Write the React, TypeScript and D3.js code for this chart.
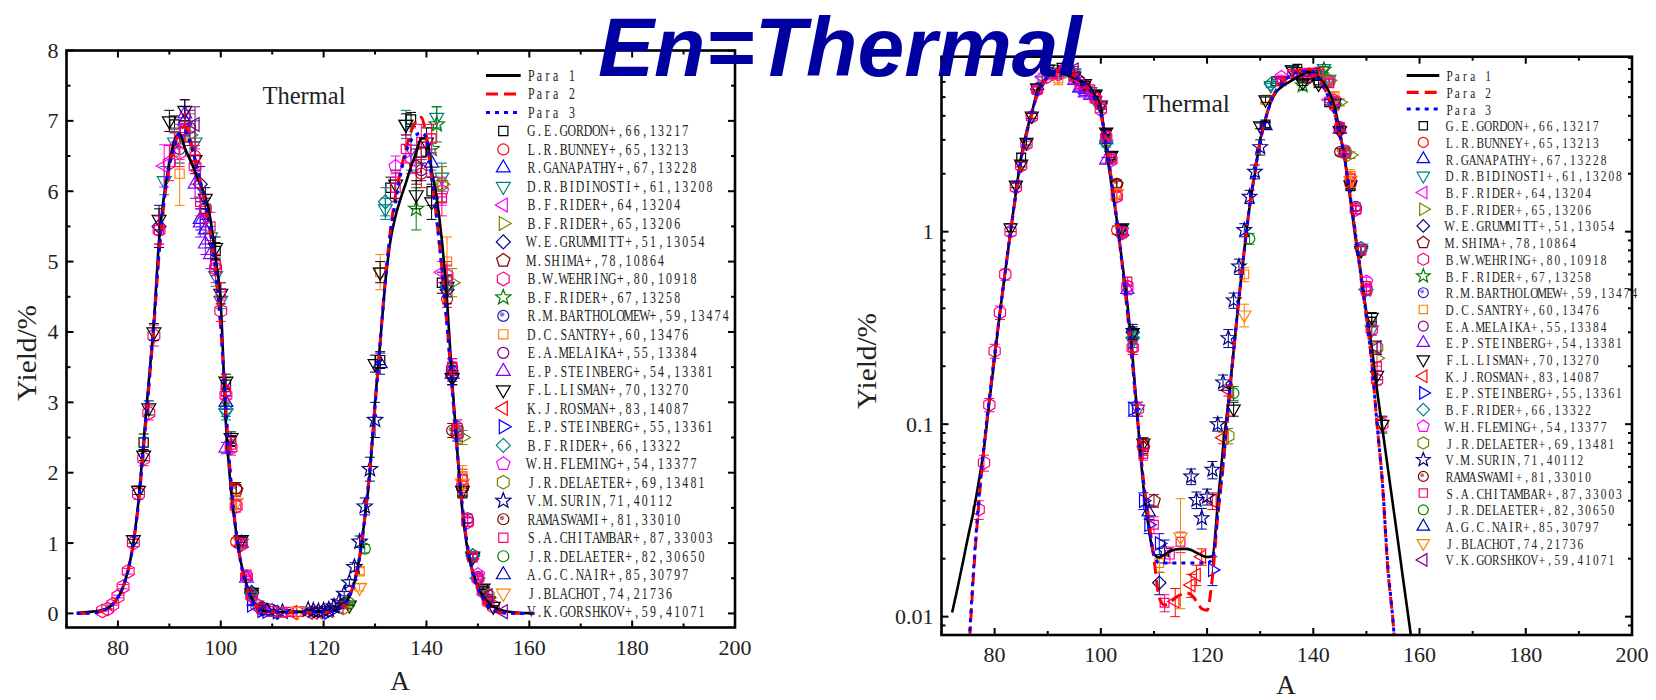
import React from 'react';
import * as d3 from 'd3';

type P = [number, number];
type E = [number, number, number];

// ---------- model curves (A, yield %) ----------
const PARA1: P[] = [[72,0.0105],[73,0.014],[74,0.019],[75,0.026],[76,0.035],[77,0.05],[78,0.075],[79,0.13],[80,0.22],[81,0.38],[82,0.62],[83,1.0],[84,1.6],[85,2.45],[86,3.3],[87,4.15],[88,5.3],[89,5.95],[90,6.4],[91,6.72],[92,6.82],[93,6.62],[94,6.45],[95,6.28],[96,6.1],[97,5.92],[98,5.6],[99,5.05],[100,4.4],[101,2.7],[102,1.75],[103,1.15],[104,0.7],[105,0.42],[106,0.22],[107,0.1],[108,0.048],[109,0.029],[110,0.021],[111,0.0203],[112,0.021],[113,0.0218],[114,0.0223],[115,0.0225],[116,0.0225],[117,0.0222],[118,0.0215],[119,0.0208],[120,0.0204],[121,0.0206],[122,0.038],[123,0.075],[124,0.13],[125,0.24],[126,0.45],[127,0.8],[128,1.35],[129,2.0],[130,3.0],[131,3.85],[132,4.7],[133,5.3],[134,5.65],[135,5.9],[136,6.12],[137,6.35],[138,6.55],[139,6.75],[140,6.75],[141,6.3],[142,5.9],[143,5.3],[144,4.45],[145,3.3],[146,2.3],[147,1.45],[148,0.9],[149,0.6],[150,0.38],[151,0.25],[152,0.15],[153,0.095],[154,0.06],[155,0.038],[156,0.024],[157,0.015],[158,0.0095],[159,0.006],[160,0.004],[161,0.0025]];
const PARA2: P[] = [[72,0.0002],[73,0.0006],[74,0.002],[75,0.0055],[76,0.016],[77,0.038],[78,0.075],[79,0.135],[80,0.23],[81,0.38],[82,0.62],[83,1.0],[84,1.55],[85,2.35],[86,3.2],[87,4.1],[88,5.1],[89,5.85],[90,6.35],[91,6.65],[92,6.85],[93,6.92],[94,6.75],[95,6.45],[96,6.15],[97,5.8],[98,5.4],[99,4.85],[100,4.05],[101,2.9],[102,1.85],[103,1.15],[104,0.68],[105,0.38],[106,0.2],[107,0.1],[108,0.052],[109,0.032],[110,0.02],[111,0.0125],[112,0.0115],[113,0.0118],[114,0.0125],[115,0.013],[116,0.0133],[117,0.013],[118,0.012],[119,0.011],[120,0.0108],[121,0.016],[122,0.033],[123,0.06],[124,0.12],[125,0.24],[126,0.45],[127,0.8],[128,1.35],[129,2.05],[130,2.95],[131,3.85],[132,4.75],[133,5.45],[134,5.95],[135,6.3],[136,6.6],[137,6.85],[138,7.0],[139,7.05],[140,6.75],[141,6.2],[142,5.6],[143,4.9],[144,4.1],[145,3.2],[146,2.3],[147,1.5],[148,0.95],[149,0.58],[150,0.36],[151,0.21],[152,0.1],[153,0.05],[154,0.018],[155,0.0095],[156,0.004],[158,0.001],[161,0.0001]];
const PARA3: P[] = [[72,0.0003],[73,0.0008],[74,0.0025],[75,0.006],[76,0.017],[77,0.04],[78,0.078],[79,0.135],[80,0.23],[81,0.38],[82,0.62],[83,1.0],[84,1.58],[85,2.4],[86,3.25],[87,4.15],[88,5.15],[89,5.9],[90,6.35],[91,6.65],[92,6.82],[93,6.85],[94,6.7],[95,6.45],[96,6.15],[97,5.82],[98,5.42],[99,4.88],[100,4.1],[101,2.9],[102,1.85],[103,1.15],[104,0.68],[105,0.39],[106,0.2],[107,0.1],[108,0.05],[109,0.03],[110,0.021],[111,0.019],[112,0.019],[113,0.019],[114,0.019],[115,0.019],[116,0.019],[117,0.019],[118,0.019],[119,0.019],[120,0.019],[121,0.02],[122,0.034],[123,0.062],[124,0.125],[125,0.24],[126,0.45],[127,0.8],[128,1.35],[129,2.05],[130,2.95],[131,3.85],[132,4.7],[133,5.4],[134,5.85],[135,6.25],[136,6.55],[137,6.72],[138,6.8],[139,6.83],[140,6.75],[141,6.2],[142,5.6],[143,4.9],[144,4.1],[145,3.2],[146,2.3],[147,1.5],[148,0.95],[149,0.58],[150,0.36],[151,0.21],[152,0.1],[153,0.05],[154,0.019],[155,0.0095],[156,0.004],[158,0.001],[161,0.0001]];

// ---------- measurements (A, yield %, error) ----------
const GORDON: E[] = [[85,2.43,0.12],[91,6.95,0.12],[93,6.85,0.15],[97,5.75,0.15],[99,5.15,0.12],[101,3.25,0.1],[102,2.45,0.08],[104,1.02,0.05],[106,0.29,0.02],[131,3.6,0.12],[133,6.05,0.15],[137,7.02,0.1],[139,6.55,0.15],[141,6.0,0.2],[143,4.7,0.15],[145,3.45,0.1],[147,1.72,0.08],[149,0.8,0.04],[151,0.34,0.02]];
const BUNNEY: E[] = [[95,6.5,0.2],[99,4.95,0.15],[103,1.02,0.05],[139,6.25,0.2],[144,4.47,0.12],[145,3.45,0.12],[147,1.9,0.15],[149,0.8,0.04],[150,0.52,0.03]];
const GANAPATHY: E[] = [[93,7.0,0.2],[96,5.6,0.15],[97,5.45,0.2],[101,3.0,0.1],[104,1.0,0.05],[141,6.4,0.2],[145,3.4,0.1]];
const BIDINOSTI: E[] = [[89,6.15,0.2],[91,6.7,0.2],[95,6.7,0.3],[98,5.35,0.15],[99,4.8,0.15],[100,4.45,0.12],[101,2.85,0.1],[104,1.0,0.04],[106,0.27,0.02],[107,0.12,0.01],[132,5.75,0.15],[136,6.95,0.2],[137,6.6,0.3],[142,7.05,0.15],[143,6.2,0.2],[145,3.35,0.1],[149,0.82,0.03],[151,0.31,0.02]];
const RIDER64: E[] = [[89,6.36,0.3],[92,6.7,0.25],[137,6.45,0.2],[143,4.85,0.15],[150,0.5,0.03]];
const RIDER65: E[] = [[94,6.8,0.3],[143,6.1,0.25],[145,4.7,0.2],[147,2.5,0.1],[152,0.22,0.02]];
const GRUMMITT: E[] = [[88,5.5,0.3],[96,6.1,0.25],[106,0.3,0.03],[111,0.015,0.002],[144,4.6,0.2]];
const SHIMA: E[] = [[103,1.75,0.08],[108,0.075,0.006],[110,0.04,0.003],[138,6.35,0.25]];
const WEHRING: E[] = [[77,0.036,0.004],[78,0.063,0.006],[79,0.126,0.01],[80,0.24,0.02],[81,0.38,0.03],[82,0.6,0.04],[83,1.0,0.05],[84,1.7,0.08],[85,2.2,0.1],[86,2.85,0.1],[87,3.95,0.15],[88,5.45,0.2],[90,6.4,0.25],[92,6.55,0.2],[95,6.35,0.25],[97,5.75,0.2],[99,4.9,0.2],[100,4.3,0.15],[101,3.1,0.12],[102,2.35,0.1],[103,1.52,0.08],[104,0.98,0.05],[105,0.52,0.03],[106,0.25,0.02],[107,0.12,0.01],[108,0.078,0.006],[144,4.8,0.2],[145,3.4,0.15],[146,2.55,0.1],[147,1.8,0.08],[148,1.3,0.06],[149,0.82,0.04],[150,0.5,0.03],[151,0.31,0.02],[152,0.17,0.01],[153,0.1,0.008]];
const RIDER67: E[] = [[138,5.75,0.3],[141,6.6,0.3],[142,6.95,0.25]];
const BARTHOLOMEW: E[] = [[92,6.6,0.2],[145,3.45,0.12]];
const SANTRY: E[] = [[92,6.25,0.45],[111,0.019,0.002],[127,0.6,0.05],[131,4.85,0.25],[141,6.75,0.2],[144,5.0,0.35],[147,1.95,0.15]];
const MELAIKA: E[] = [[94,6.9,0.25],[139,6.3,0.15],[145,3.5,0.12],[146,2.65,0.1],[148,1.35,0.06]];
const STEINBERG54: E[] = [[93,7.1,0.2],[95,6.1,0.2],[96,5.55,0.2],[97,5.25,0.15],[98,5.1,0.2],[101,2.35,0.08],[105,0.5,0.03]];
const LISMAN: E[] = [[83,1.05,0.05],[84,1.75,0.06],[85,2.25,0.08],[86,2.92,0.1],[87,4.0,0.12],[88,5.6,0.15],[90,7.0,0.15],[93,7.15,0.15],[95,6.45,0.2],[97,5.9,0.15],[99,5.2,0.15],[100,4.55,0.15],[101,3.3,0.1],[102,2.5,0.08],[104,1.05,0.04],[106,0.3,0.02],[108,0.08,0.005],[125,0.12,0.01],[130,3.55,0.12],[131,4.85,0.15],[134,6.1,0.2],[136,6.95,0.15],[138,5.95,0.2],[140,6.7,0.2],[141,5.85,0.25],[144,4.65,0.15],[145,3.35,0.1],[147,1.75,0.08],[149,0.8,0.04],[151,0.36,0.02],[152,0.18,0.01],[153,0.1,0.01]];
const ROSMAN: E[] = [[114,0.012,0.002],[117,0.0146,0.002],[118,0.0165,0.002],[119,0.0205,0.002],[121,0.04,0.004],[123,0.085,0.006],[124,0.15,0.01]];
const STEINBERG55: E[] = [[106,0.12,0.01],[108,0.04,0.004],[109,0.03,0.003],[111,0.024,0.003],[121,0.0175,0.003]];
const RIDER66: E[] = [[101,2.9,0.1],[106,0.28,0.02],[132,5.85,0.2],[144,4.65,0.15],[146,2.55,0.1],[149,0.82,0.04],[150,0.5,0.03]];
const FLEMING: E[] = [[134,6.35,0.15],[143,6.0,0.2],[150,0.55,0.03]];
const DELAETER69: E[] = [[124,0.087,0.008],[143,6.1,0.25],[146,2.6,0.1],[152,0.25,0.02]];
const SURIN: E[] = [[112,0.022,0.003],[117,0.0535,0.005],[118,0.0404,0.004],[119,0.0325,0.004],[120,0.042,0.004],[121,0.058,0.006],[122,0.1,0.008],[123,0.165,0.015],[124,0.28,0.03],[125,0.44,0.04],[126,0.66,0.06],[127,1.02,0.08],[128,1.52,0.12],[129,2.05,0.17],[130,2.75,0.25]];
const RAMASWAMI: E[] = [[103,1.78,0.08],[108,0.078,0.006],[145,2.6,0.1]];
const CHITAMBAR: E[] = [[88,5.45,0.2],[91,6.6,0.25],[93,6.9,0.2],[95,6.45,0.2],[96,5.85,0.2],[98,5.5,0.2],[99,4.95,0.15],[100,4.55,0.15],[101,3.15,0.1],[102,2.4,0.1],[103,1.55,0.06],[104,1.0,0.05],[105,0.55,0.03],[106,0.25,0.02],[108,0.07,0.005],[110,0.03,0.003],[112,0.0118,0.0012],[113,0.021,0.002],[115,0.0245,0.003],[134,6.05,0.2],[136,6.6,0.2],[139,6.7,0.25],[141,6.75,0.2],[143,5.9,0.25],[144,4.75,0.2],[145,3.5,0.12],[146,2.6,0.1],[147,1.9,0.08],[148,1.3,0.06],[149,0.8,0.04],[150,0.5,0.03],[152,0.2,0.01]];
const DELAETER82: E[] = [[125,0.145,0.012],[128,0.92,0.06]];
const NAIR: E[] = [[109,0.035,0.003],[131,3.55,0.15]];
const BLACHOT: E[] = [[103,1.58,0.1],[115,0.026,0.015],[127,0.37,0.05],[147,1.85,0.15]];
const GORSHKOV: E[] = [[95,6.95,0.25],[152,0.25,0.02]];

const SERIES_LABELS = ['G.E.GORDON+,66,13217','L.R.BUNNEY+,65,13213','R.GANAPATHY+,67,13228','D.R.BIDINOSTI+,61,13208','B.F.RIDER+,64,13204','B.F.RIDER+,65,13206','W.E.GRUMMITT+,51,13054','M.SHIMA+,78,10864','B.W.WEHRING+,80,10918','B.F.RIDER+,67,13258','R.M.BARTHOLOMEW+,59,13474','D.C.SANTRY+,60,13476','E.A.MELAIKA+,55,13384','E.P.STEINBERG+,54,13381','F.L.LISMAN+,70,13270','K.J.ROSMAN+,83,14087','E.P.STEINBERG+,55,13361','B.F.RIDER+,66,13322','W.H.FLEMING+,54,13377','J.R.DELAETER+,69,13481','V.M.SURIN,71,40112','RAMASWAMI+,81,33010','S.A.CHITAMBAR+,87,33003','J.R.DELAETER+,82,30650','A.G.C.NAIR+,85,30797','J.BLACHOT,74,21736','V.K.GORSHKOV+,59,41071'];
const SERIES_COLORS = ['#000000','#FF0000','#0000FF','#008080','#FF00FF','#808000','#000080','#800000','#FF0080','#008000','#2020B0','#FF8000','#800080','#8000FF','#000000','#FF0000','#0000FF','#008080','#FF00FF','#808000','#000080','#800000','#FF0080','#008000','#0000A0','#FF8000','#800080'];
const SERIES_SHAPES = ['square','circle','up','down','left','right','diamond','pentagon','hexagon','star','sphere','square','circle','up','down','left','right','diamond','pentagon','hexagon','star','sphere','square','circle','up','down','left'];
const SERIES_DATA = [GORDON,BUNNEY,GANAPATHY,BIDINOSTI,RIDER64,RIDER65,GRUMMITT,SHIMA,WEHRING,RIDER67,BARTHOLOMEW,SANTRY,MELAIKA,STEINBERG54,LISMAN,ROSMAN,STEINBERG55,RIDER66,FLEMING,DELAETER69,SURIN,RAMASWAMI,CHITAMBAR,DELAETER82,NAIR,BLACHOT,GORSHKOV];

const PARA_LABELS = ['Para 1', 'Para 2', 'Para 3'];
const LIN_TICKS = [0, 1, 2, 3, 4, 5, 6, 7, 8];
const LOG_TICKS = [0.01, 0.1, 1];
const LOG_TICK_LABELS = ['0.01', '0.1', '1'];
const X_TICKS = [80, 100, 120, 140, 160, 180, 200];

// ---------- helpers ----------
function polygon(n: number, r: number, rot: number) {
  let d = '';
  for (let i = 0; i < n; i++) {
    const a = ((rot + (i * 360) / n) * Math.PI) / 180;
    d += (i ? 'L' : 'M') + (r * Math.cos(a)).toFixed(2) + ',' + (r * Math.sin(a)).toFixed(2);
  }
  return d + 'Z';
}
function starPath(r: number) {
  let d = '';
  for (let i = 0; i < 10; i++) {
    const rr = i % 2 === 0 ? r : r * 0.42;
    const a = ((-90 + i * 36) * Math.PI) / 180;
    d += (i ? 'L' : 'M') + (rr * Math.cos(a)).toFixed(2) + ',' + (rr * Math.sin(a)).toFixed(2);
  }
  return d + 'Z';
}

function Marker({ shape, color, x, y, s }: { shape: string; color: string; x: number; y: number; s: number }) {
  const sw = 1.2;
  const t = `translate(${x},${y})`;
  if (shape === 'circle') return <circle cx={x} cy={y} r={5.5 * s} fill="none" stroke={color} strokeWidth={sw} />;
  if (shape === 'sphere')
    return (
      <g transform={t}>
        <circle r={5.5 * s} fill="none" stroke={color} strokeWidth={sw} />
        <circle cx={-1.3 * s} cy={-1.3 * s} r={2.2 * s} fill={color} opacity={0.55} />
      </g>
    );
  let d = '';
  if (shape === 'square') d = polygon(4, 6.5 * s, 45);
  else if (shape === 'up') d = polygon(3, 8 * s, -90);
  else if (shape === 'down') d = polygon(3, 8 * s, 90);
  else if (shape === 'left') d = polygon(3, 8 * s, 180);
  else if (shape === 'right') d = polygon(3, 8 * s, 0);
  else if (shape === 'diamond') d = polygon(4, 7 * s, -90);
  else if (shape === 'pentagon') d = polygon(5, 7 * s, -90);
  else if (shape === 'hexagon') d = polygon(6, 6.8 * s, -90);
  else if (shape === 'star') d = starPath(8 * s);
  return <path transform={t} d={d} fill="none" stroke={color} strokeWidth={sw} />;
}

// SimSun-like half-width text: every char sits centred in a cell of `cell` px
function Mono({ x, y, text, cell, size, sx = 0.74, fill = '#222' }: any) {
  return (
    <text
      transform={`translate(${x},${y}) scale(${sx},1)`}
      fontFamily="Liberation Serif"
      fontSize={size}
      textAnchor="middle"
      fill={fill}
      style={{ whiteSpace: 'pre' }}
    >
      {text.split('').map((c: string, i: number) => (
        <tspan key={i} x={((i + 0.5) * cell) / sx}>
          {c}
        </tspan>
      ))}
    </text>
  );
}

// stretched serif text of a fixed total width
function Fit({ x, y, text, width, size, rotate = 0 }: any) {
  return (
    <text
      transform={`translate(${x},${y}) rotate(${rotate})`}
      fontFamily="Liberation Serif"
      fontSize={size}
      fill="#222"
      textAnchor={rotate ? 'middle' : 'start'}
      textLength={width}
      lengthAdjust="spacingAndGlyphs"
    >
      {text}
    </text>
  );
}

type PanelCfg = {
  id: string;
  log: boolean;
  x0: number; x1: number; top: number; bottom: number;
  leg: { l0: number; l1: number; mx: number; tx: number; r0: number; dy: number; cell: number; size: number; ms: number };
  thermal: [number, number, number, number];
  ytitle: [number, number];
  xtitle: [number, number];
  ms: number;
};

function Panel({ cfg }: { cfg: PanelCfg }) {
  const x = d3.scaleLinear().domain([70, 200]).range([cfg.x0, cfg.x1]);
  const y: any = cfg.log
    ? d3.scaleLog().domain([0.00803, 8.11]).range([cfg.bottom, cfg.top])
    : d3.scaleLinear().domain([-0.2, 8]).range([cfg.bottom, cfg.top]);
  const ymin = cfg.log ? 0.00803 : -0.2;
  const line = d3
    .line<P>()
    .defined((p) => !cfg.log || p[1] > 0)
    .x((p) => x(p[0]))
    .y((p) => y(p[1]))
    .curve(d3.curveMonotoneX);
  const clipId = 'clip-' + cfg.id;
  const black = '#000';

  const xMinor = d3.range(70, 201, 10).filter((v) => v % 20 !== 0);
  let yMajor: number[] = [];
  let yMinor: number[] = [];
  if (cfg.log) {
    yMajor = LOG_TICKS;
    for (const dec of [0.001, 0.01, 0.1, 1]) for (let k = 2; k <= 9; k++) {
      const v = dec * k;
      if (v >= 0.00803 && v <= 8.11) yMinor.push(v);
    }
  } else {
    yMajor = LIN_TICKS;
    yMinor = d3.range(0.5, 8, 1);
  }
  const ML = 7, mL = 4;

  const pts: any[] = [];
  SERIES_DATA.forEach((ser, si) => {
    ser.forEach((p, pi) => {
      const [a, v, e] = p;
      if (cfg.log && v < 0.00803) return;
      const cx = x(a), cy = y(v);
      const lo = Math.max(v - e, ymin * 1.0001);
      const y1 = y(lo), y2 = y(v + e);
      const c = SERIES_COLORS[si];
      pts.push(
        <g key={`${si}-${pi}`}>
          <line x1={cx} x2={cx} y1={y1} y2={y2} stroke={c} strokeWidth={1} />
          <line x1={cx - 5} x2={cx + 5} y1={y1} y2={y1} stroke={c} strokeWidth={1} />
          <line x1={cx - 5} x2={cx + 5} y1={y2} y2={y2} stroke={c} strokeWidth={1} />
          <Marker shape={SERIES_SHAPES[si]} color={c} x={cx} y={cy} s={cfg.ms} />
        </g>
      );
    });
  });

  const L = cfg.leg;
  return (
    <g>
      <defs>
        <clipPath id={clipId}>
          <rect x={cfg.x0} y={cfg.top} width={cfg.x1 - cfg.x0} height={cfg.bottom - cfg.top} />
        </clipPath>
      </defs>
      <g clipPath={`url(#${clipId})`}>
        {pts}
        <path d={line(PARA1) || ''} fill="none" stroke="#000" strokeWidth={2.6} />
        <path d={line(PARA2) || ''} fill="none" stroke="#FF0000" strokeWidth={3} strokeDasharray="12,6" />
        <path d={line(PARA3) || ''} fill="none" stroke="#0000FF" strokeWidth={3} strokeDasharray="4,5" />
      </g>
      <rect x={cfg.x0} y={cfg.top} width={cfg.x1 - cfg.x0} height={cfg.bottom - cfg.top} fill="none" stroke={black} strokeWidth={2.6} />
      {X_TICKS.map((v) => (
        <g key={'xt' + v}>
          <line x1={x(v)} x2={x(v)} y1={cfg.bottom} y2={cfg.bottom - ML} stroke={black} strokeWidth={2} />
          <line x1={x(v)} x2={x(v)} y1={cfg.top} y2={cfg.top + ML} stroke={black} strokeWidth={2} />
          <text x={x(v)} y={cfg.bottom + 27} textAnchor="middle" fontFamily="Liberation Serif" fontSize={22} fill="#222">
            {v}
          </text>
        </g>
      ))}
      {xMinor.map((v) => (
        <g key={'xm' + v}>
          <line x1={x(v)} x2={x(v)} y1={cfg.bottom} y2={cfg.bottom - mL} stroke={black} strokeWidth={2} />
          <line x1={x(v)} x2={x(v)} y1={cfg.top} y2={cfg.top + mL} stroke={black} strokeWidth={2} />
        </g>
      ))}
      {yMajor.map((v, i) => (
        <g key={'yt' + v}>
          <line x1={cfg.x0} x2={cfg.x0 + ML} y1={y(v)} y2={y(v)} stroke={black} strokeWidth={2} />
          <line x1={cfg.x1} x2={cfg.x1 - ML} y1={y(v)} y2={y(v)} stroke={black} strokeWidth={2} />
          <text x={cfg.x0 - 8} y={y(v) + 7.5} textAnchor="end" fontFamily="Liberation Serif" fontSize={22} fill="#222">
            {cfg.log ? LOG_TICK_LABELS[i] : String(v)}
          </text>
        </g>
      ))}
      {yMinor.map((v) => (
        <g key={'ym' + v}>
          <line x1={cfg.x0} x2={cfg.x0 + mL} y1={y(v)} y2={y(v)} stroke={black} strokeWidth={2} />
          <line x1={cfg.x1} x2={cfg.x1 - mL} y1={y(v)} y2={y(v)} stroke={black} strokeWidth={2} />
        </g>
      ))}
      <Fit x={cfg.thermal[0]} y={cfg.thermal[1]} text="Thermal" width={cfg.thermal[2]} size={cfg.thermal[3]} />
      <Fit x={cfg.ytitle[0]} y={cfg.ytitle[1]} text="Yield/%" width={96} size={28} rotate={-90} />
      <text x={cfg.xtitle[0]} y={cfg.xtitle[1]} textAnchor="middle" fontFamily="Liberation Serif" fontSize={27} fill="#222">
        A
      </text>
      {PARA_LABELS.map((lab, i) => {
        const yy = L.r0 + i * L.dy;
        const st = [
          { s: '#000', da: undefined, w: 3 },
          { s: '#FF0000', da: '12,6', w: 3.2 },
          { s: '#0000FF', da: '4,5', w: 3.2 },
        ][i];
        return (
          <g key={'pl' + i}>
            <line x1={L.l0} x2={L.l1} y1={yy} y2={yy} stroke={st.s} strokeWidth={st.w} strokeDasharray={st.da} />
            <Mono x={L.tx} y={yy + 5.5} text={lab} cell={L.cell} size={L.size} />
          </g>
        );
      })}
      {SERIES_LABELS.map((lab, i) => {
        const yy = L.r0 + (i + 3) * L.dy;
        return (
          <g key={'sl' + i}>
            <Marker shape={SERIES_SHAPES[i]} color={SERIES_COLORS[i]} x={L.mx} y={yy} s={L.ms} />
            <Mono x={L.tx} y={yy + 5.5} text={lab} cell={L.cell} size={L.size} />
          </g>
        );
      })}
    </g>
  );
}

const LEFT: PanelCfg = {
  id: 'lin', log: false, x0: 66.5, x1: 735, top: 50.5, bottom: 627.5,
  leg: { l0: 486, l1: 520.7, mx: 503.3, tx: 527.3, r0: 75.5, dy: 18.49, cell: 8.1, size: 16, ms: 1 },
  thermal: [262.5, 104.3, 83, 25], ytitle: [36, 353], xtitle: [400, 690], ms: 1,
};
const RIGHT: PanelCfg = {
  id: 'log', log: true, x0: 941.5, x1: 1632, top: 56.7, bottom: 635,
  leg: { l0: 1406.7, l1: 1439.3, mx: 1423.3, tx: 1445.7, r0: 75.6, dy: 16.7, cell: 7.7, size: 15.3, ms: 0.9 },
  thermal: [1143, 111.7, 87, 26], ytitle: [876, 361], xtitle: [1286, 694], ms: 0.95,
};

export default function App() {
  return (
    <svg width={1656} height={700} style={{ position: 'absolute', left: 0, top: 0, background: '#fff' }}>
      <rect width={1656} height={700} fill="#fff" />
      <Panel cfg={LEFT} />
      <Panel cfg={RIGHT} />
      <text
        x={598}
        y={75.5}
        fontFamily="Liberation Sans"
        fontWeight="bold"
        fontStyle="italic"
        fontSize={83}
        fill="#0000A0"
        textLength={484}
        lengthAdjust="spacingAndGlyphs"
      >
        En=Thermal
      </text>
    </svg>
  );
}
